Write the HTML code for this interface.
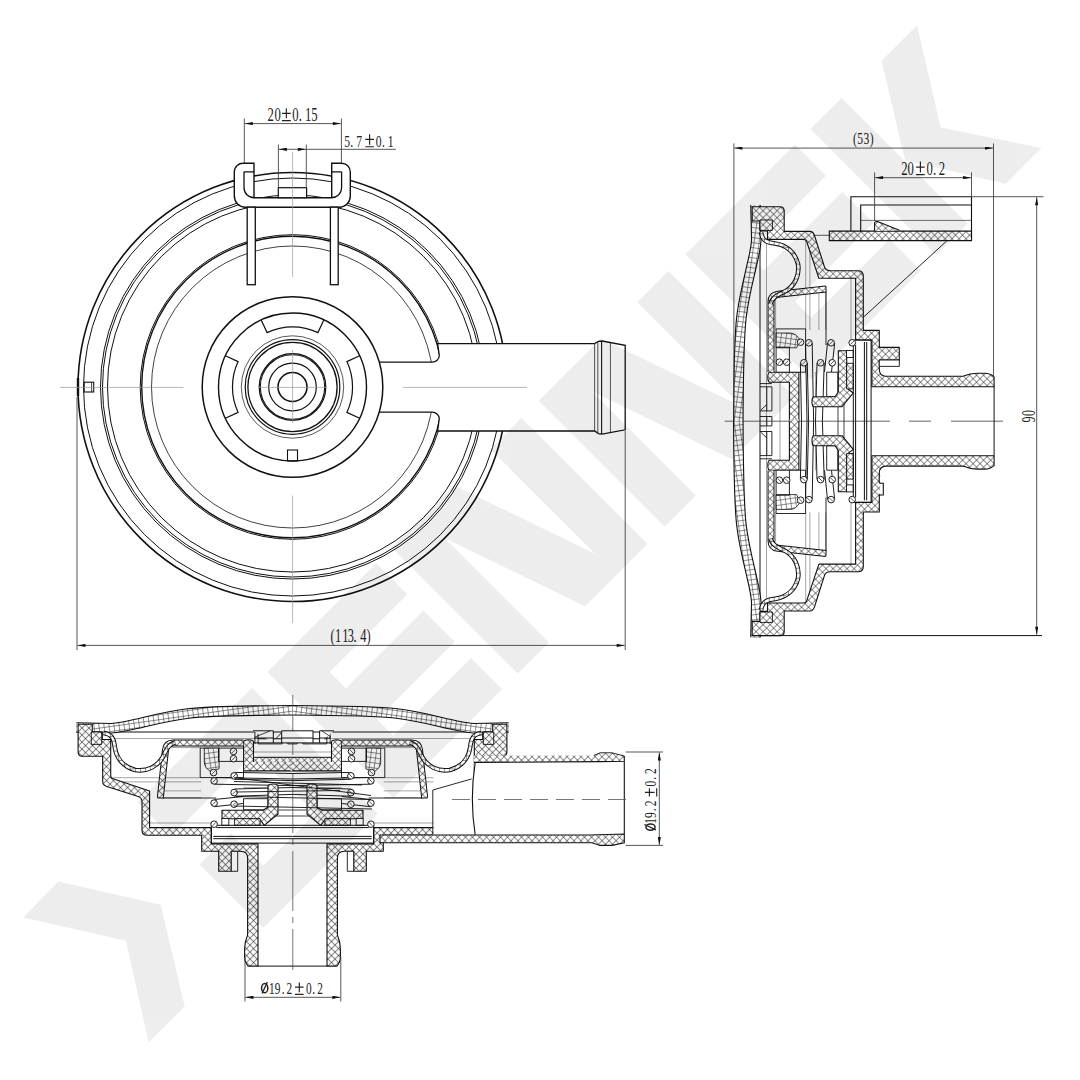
<!DOCTYPE html>
<html><head><meta charset="utf-8">
<style>
html,body{margin:0;padding:0;background:#fff;width:1080px;height:1080px;overflow:hidden}
svg{display:block}
text{font-family:"Liberation Serif",serif}
</style></head><body>
<svg width="1080" height="1080" viewBox="0 0 1080 1080">
<defs>
<pattern id="hx" width="4.95" height="4.95" patternUnits="userSpaceOnUse" patternTransform="rotate(45)">
<rect width="4.95" height="4.95" fill="#fff"/>
<path d="M0,0.4H4.95M0.4,0V4.95" stroke="#222" stroke-width="0.58"/>
</pattern>
<marker id="ar" viewBox="0 0 10 4" refX="10" refY="2" markerWidth="9" markerHeight="3.2" orient="auto-start-reverse" markerUnits="userSpaceOnUse">
<path d="M0,0L10,2L0,4z" fill="#111"/>
</marker>
<pattern id="hg" width="5" height="5" patternUnits="userSpaceOnUse" patternTransform="rotate(8)">
<rect width="5" height="5" fill="#fff"/>
<path d="M0,0.4H5M0.4,0V5" stroke="#333" stroke-width="0.62"/>
</pattern>

</defs>
<rect width="1080" height="1080" fill="#fff"/>


<!-- TOP VIEW -->
<g id="top" fill="none" stroke="#111" stroke-width="1">
<g transform="translate(292.5,387)">
<circle r="214.5" stroke-width="1.6"/>
<circle r="209"/>
<circle r="192"/>
<circle r="190"/>
<circle r="185"/>
<circle r="152.3"/>
<circle r="150.8" stroke-width="1.4"/>
<circle r="141" stroke-width="0.8"/>
</g>

<!-- hose + slot -->
<path d="M370,362.2H432.2A7,7 0 0 0 439.3,355.5L437.6,343.6H594.6L598.5,341.3L602,341L625.2,345.3V429.8L602,434.2L598.5,433.6L594.6,431H437.6L439.3,418.5A7,7 0 0 0 432.2,412.2H370Z" fill="#fff" stroke-width="1.3"/>
<path d="M594.6,343.6V431M597.8,342V432.6M610.4,342.5V432.6" stroke-width="0.7"/>
<path d="M601.6,341V434" stroke-width="1.1"/>
<!-- hub -->
<g transform="translate(292.5,387)">
<circle r="90.3" fill="#fff" stroke-width="1.5"/>
<circle r="74" stroke-width="1.4"/>
<circle r="51.2" stroke-width="0.7"/>
<circle r="47.3" stroke-width="1.2"/>
<circle r="44.6" stroke-width="1.3"/>
<circle r="33.3" stroke-width="1.2"/>
<circle r="32.2" stroke-width="1.1"/>
<circle r="23.8" stroke-width="1.2"/>
<circle r="14.5" stroke-width="1.6"/>
</g>
<path d="M323.8,319.9L317.9,332.6A60,60 0 0 0 267.1,332.6L261.2,319.9M225.4,355.7L238.1,361.6A60,60 0 0 0 238.1,412.4L225.4,418.3M359.6,418.3L346.9,412.4A60,60 0 0 0 346.9,361.6L359.6,355.7" stroke-width="1.2"/>
<rect x="287.5" y="450" width="10" height="11" stroke-width="1.1"/>
<!-- small square left -->
<rect x="84.2" y="382.2" width="9.5" height="9.8" stroke-width="1.1"/>
<path d="M91.6,382.5V392" stroke-width="0.8"/>
<path d="M78,378V396" stroke-width="2.4"/>
<!-- clip -->
<path d="M244,163.3H254V197.7H331.7V163.3H341.6A8.7,8.7 0 0 1 350.3,172V196A11.2,11.2 0 0 1 339.1,207.2H245.5A11.2,11.2 0 0 1 234.3,196V172A8.7,8.7 0 0 1 244,163.3Z" fill="#fff" stroke-width="1.4"/>
<path d="M244,171.8V187.7A10,10 0 0 0 254,197.7M331.7,197.7A10,10 0 0 0 341.6,187.7V171.8M244,171.8H254M331.7,171.8H341.6" stroke-width="1.3"/>
<rect x="247.2" y="207.2" width="8.1" height="77.5" fill="#fff" stroke-width="1.3"/>
<rect x="330.4" y="207.2" width="7.8" height="77.5" fill="#fff" stroke-width="1.3"/>
<rect x="278.3" y="187.7" width="28.3" height="10" fill="#fff" stroke-width="1.2"/>
</g>


<!-- SIDE VIEW -->
<path d="M724.7,421.2H890M909,421.2H931M951,421.2H1003" stroke="#555" stroke-width="0.9" fill="none"/>
<g stroke="#111" stroke-width="1.1" stroke-linejoin="round">
<!-- vertical thin lines inside -->
<path d="M766.5,244V421.2M775.6,300V330M780,347V421.2M805.7,240V330M809.9,240V330M815.6,372V396M818.9,290V330M825.8,289V330M851,278V340" fill="none" stroke-width="0.6" stroke="#666"/>
<path d="M760,241V421.2" fill="none" stroke-width="1"/>
<!-- shell -->
<path d="M755.5,205L756.3,240C755.8,248 753.5,258 751.9,264.8C749,278 744,296 741.5,316.7C739.5,333 738.6,360 738.3,421.2" fill="none" stroke="#111" stroke-width="10.6"/>
<path d="M755.5,205L756.3,240C755.8,248 753.5,258 751.9,264.8C749,278 744,296 741.5,316.7C739.5,333 738.6,360 738.3,421.2" fill="none" stroke="url(#hg)" stroke-width="8.4"/>
<!-- housing -->
<path d="M752.2,206.8H780Q784.2,206.8 784.2,211V231.4H810Q813,231.4 814.5,235.5L824.5,267Q825.8,270.7 830,270.7H858Q863.3,270.7 863.3,276V330.4H879.3V347.4H899.3V360H879.3V369Q879.3,376.3 886,376.3H963Q970,373.3 977,373.3H985Q990,373.3 994.1,376.8V386.7H871.9V340H855.6V278.3H818.9L806.5,241Q805.7,239.4 803,239.4H767.5V231H759.9V221H752.2Z" fill="url(#hx)"/>
<rect x="760" y="220" width="12.4" height="10.4" fill="url(#hx)" stroke-width="0.9"/>
<rect x="879.3" y="360" width="20" height="6.4" fill="#fff" stroke-width="0.9"/>
<path d="M994.1,386.7V421.2" fill="none" stroke-width="1"/>
<!-- inner cup half -->
<path d="M770,372.2H798.9V423H789.4V382.2H770Q767.8,382.2 767.8,377.2Q767.8,372.2 770,372.2Z" fill="url(#hx)" stroke="none"/>
<path d="M789.4,421.2V382.2H770Q767.8,382.2 767.8,377.2Q767.8,372.2 770,372.2H798.9V421.2" fill="none"/>
<!-- seat thin band -->
<path d="M771,372V302Q771,295 778,294.2L826,289" fill="none" stroke-width="7"/>
<path d="M771,372V302Q771,295 778,294.2L826,289" fill="none" stroke="url(#hx)" stroke-width="5"/>
<path d="M826,286V345" fill="none" stroke-width="0.9"/>
<!-- membrane -->
<path d="M761,232C762,240 766,242.5 775,243.5C786,245 795,252 798,264C800,276 794,286 786,291C778,295 772,297 770.5,304" fill="none" stroke-width="4.6"/>
<path d="M761,232C762,240 766,242.5 775,243.5C786,245 795,252 798,264C800,276 794,286 786,291C778,295 772,297 770.5,304" fill="none" stroke="url(#hg)" stroke-width="2.6"/>
<path d="M759.9,383.6H771.9M759.9,386.8H771.9V410.9H759.9M766.8,386.8V410.9M761,410L766.8,404.5M759.9,416.5H771.9M766.8,416.5V421.2M771.9,416.5V421.2" fill="none" stroke-width="0.9"/>
<path d="M841.5,372V396M844,390V421.2M838,407V421.2" fill="none" stroke-width="0.8"/>
<!-- retainer box -->
<path d="M776.1,328.9H805.6V372.2H776.1Z" fill="#fff" stroke-width="0.9"/>
<path d="M776.1,333H790Q796,333 800,340L796.7,347.8H776.1Z" fill="url(#hg)" stroke-width="0.8"/>
<path d="M776.1,347.2H789.4V372.2" fill="none" stroke-width="0.9"/>
<!-- springs (tubes) -->
<g fill="none" stroke-width="0.95">
<path d="M805.5,343L807,421.2M812.2,343L813.6,421.2"/>
<path d="M800.4,363L801.5,421.2M807.3,363L808.6,421.2"/>
<path d="M817,363L815.5,421.2M824.2,363L822.4,421.2"/>
<path d="M827.5,343L824.5,372M834.7,343L831.5,372"/>
</g>
<!-- valve stem -->
<path d="M826.7,372.2H837.8V396.7H826.7Z" fill="#fff" stroke-width="0.9"/>
<!-- valve S upper -->
<path d="M814,396.7H835L838.3,392V350.7H846.7V388L853.3,393L842,406.7H814Q812,406.7 812,401.7Q812,396.7 814,396.7Z" fill="url(#hx)"/>
<rect x="846.7" y="363.3" width="6.6" height="25.6" fill="url(#hx)" stroke-width="0.9"/>
<rect x="846.5" y="350.5" width="6.8" height="7" fill="#fff" stroke-width="0.9"/>
<!-- plate -->
<path d="M853.3,340H871.1V421.2M853.3,340V421.2M855.6,345V421.2M864.4,342V421.2M866.7,342V421.2" fill="none" stroke-width="1"/>
<!-- wire circles -->
<g fill="#fff" stroke-width="0.95">
<circle cx="779.4" cy="362.2" r="3.3"/><circle cx="786.7" cy="362.2" r="3.3"/>
<circle cx="800.6" cy="342.2" r="3.3"/><circle cx="808.9" cy="342.8" r="3.3"/>
<circle cx="831.1" cy="342.8" r="3.3"/><circle cx="852.2" cy="342.8" r="3.3"/>
<circle cx="803.9" cy="362.8" r="3.3"/><circle cx="820.6" cy="362.8" r="3.3"/><circle cx="832.2" cy="362.8" r="3.3"/>
</g>
<path d="M777.7,363.9L781.1,360.5M785.0,363.9L788.4,360.5M798.9,343.9L802.3,340.5M807.2,344.5L810.6,341.1M829.4,344.5L832.8,341.1M850.5,344.5L853.9,341.1M802.2,364.5L805.6,361.1M818.9,364.5L822.3,361.1M830.5,364.5L833.9,361.1" fill="none" stroke-width="0.7"/>
</g>
<g stroke="#111" stroke-width="1.1" stroke-linejoin="round" transform="matrix(1,0,0,-1,0,842.4)">
<!-- vertical thin lines inside -->
<path d="M766.5,244V421.2M775.6,300V330M780,347V421.2M805.7,240V330M809.9,240V330M815.6,372V396M818.9,290V330M825.8,289V330M851,278V340" fill="none" stroke-width="0.6" stroke="#666"/>
<path d="M760,241V421.2" fill="none" stroke-width="1"/>
<!-- shell -->
<path d="M755.5,205L756.3,240C755.8,248 753.5,258 751.9,264.8C749,278 744,296 741.5,316.7C739.5,333 738.6,360 738.3,421.2" fill="none" stroke="#111" stroke-width="10.6"/>
<path d="M755.5,205L756.3,240C755.8,248 753.5,258 751.9,264.8C749,278 744,296 741.5,316.7C739.5,333 738.6,360 738.3,421.2" fill="none" stroke="url(#hg)" stroke-width="8.4"/>
<!-- housing -->
<path d="M752.2,206.8H780Q784.2,206.8 784.2,211V231.4H810Q813,231.4 814.5,235.5L824.5,267Q825.8,270.7 830,270.7H858Q863.3,270.7 863.3,276V330.4H879.3V347.4H899.3V360H879.3V369Q879.3,376.3 886,376.3H963Q970,373.3 977,373.3H985Q990,373.3 994.1,376.8V386.7H871.9V340H855.6V278.3H818.9L806.5,241Q805.7,239.4 803,239.4H767.5V231H759.9V221H752.2Z" fill="url(#hx)"/>
<rect x="760" y="220" width="12.4" height="10.4" fill="url(#hx)" stroke-width="0.9"/>
<rect x="879.3" y="360" width="20" height="6.4" fill="#fff" stroke-width="0.9"/>
<path d="M994.1,386.7V421.2" fill="none" stroke-width="1"/>
<!-- inner cup half -->
<path d="M770,372.2H798.9V423H789.4V382.2H770Q767.8,382.2 767.8,377.2Q767.8,372.2 770,372.2Z" fill="url(#hx)" stroke="none"/>
<path d="M789.4,421.2V382.2H770Q767.8,382.2 767.8,377.2Q767.8,372.2 770,372.2H798.9V421.2" fill="none"/>
<!-- seat thin band -->
<path d="M771,372V302Q771,295 778,294.2L826,289" fill="none" stroke-width="7"/>
<path d="M771,372V302Q771,295 778,294.2L826,289" fill="none" stroke="url(#hx)" stroke-width="5"/>
<path d="M826,286V345" fill="none" stroke-width="0.9"/>
<!-- membrane -->
<path d="M761,232C762,240 766,242.5 775,243.5C786,245 795,252 798,264C800,276 794,286 786,291C778,295 772,297 770.5,304" fill="none" stroke-width="4.6"/>
<path d="M761,232C762,240 766,242.5 775,243.5C786,245 795,252 798,264C800,276 794,286 786,291C778,295 772,297 770.5,304" fill="none" stroke="url(#hg)" stroke-width="2.6"/>
<path d="M759.9,383.6H771.9M759.9,386.8H771.9V410.9H759.9M766.8,386.8V410.9M761,410L766.8,404.5M759.9,416.5H771.9M766.8,416.5V421.2M771.9,416.5V421.2" fill="none" stroke-width="0.9"/>
<path d="M841.5,372V396M844,390V421.2M838,407V421.2" fill="none" stroke-width="0.8"/>
<!-- retainer box -->
<path d="M776.1,328.9H805.6V372.2H776.1Z" fill="#fff" stroke-width="0.9"/>
<path d="M776.1,333H790Q796,333 800,340L796.7,347.8H776.1Z" fill="url(#hg)" stroke-width="0.8"/>
<path d="M776.1,347.2H789.4V372.2" fill="none" stroke-width="0.9"/>
<!-- springs (tubes) -->
<g fill="none" stroke-width="0.95">
<path d="M805.5,343L807,421.2M812.2,343L813.6,421.2"/>
<path d="M800.4,363L801.5,421.2M807.3,363L808.6,421.2"/>
<path d="M817,363L815.5,421.2M824.2,363L822.4,421.2"/>
<path d="M827.5,343L824.5,372M834.7,343L831.5,372"/>
</g>
<!-- valve stem -->
<path d="M826.7,372.2H837.8V396.7H826.7Z" fill="#fff" stroke-width="0.9"/>
<!-- valve S upper -->
<path d="M814,396.7H835L838.3,392V350.7H846.7V388L853.3,393L842,406.7H814Q812,406.7 812,401.7Q812,396.7 814,396.7Z" fill="url(#hx)"/>
<rect x="846.7" y="363.3" width="6.6" height="25.6" fill="url(#hx)" stroke-width="0.9"/>
<rect x="846.5" y="350.5" width="6.8" height="7" fill="#fff" stroke-width="0.9"/>
<!-- plate -->
<path d="M853.3,340H871.1V421.2M853.3,340V421.2M855.6,345V421.2M864.4,342V421.2M866.7,342V421.2" fill="none" stroke-width="1"/>
<!-- wire circles -->
<g fill="#fff" stroke-width="0.95">
<circle cx="779.4" cy="362.2" r="3.3"/><circle cx="786.7" cy="362.2" r="3.3"/>
<circle cx="800.6" cy="342.2" r="3.3"/><circle cx="808.9" cy="342.8" r="3.3"/>
<circle cx="831.1" cy="342.8" r="3.3"/><circle cx="852.2" cy="342.8" r="3.3"/>
<circle cx="803.9" cy="362.8" r="3.3"/><circle cx="820.6" cy="362.8" r="3.3"/><circle cx="832.2" cy="362.8" r="3.3"/>
</g>
<path d="M777.7,363.9L781.1,360.5M785.0,363.9L788.4,360.5M798.9,343.9L802.3,340.5M807.2,344.5L810.6,341.1M829.4,344.5L832.8,341.1M850.5,344.5L853.9,341.1M802.2,364.5L805.6,361.1M818.9,364.5L822.3,361.1M830.5,364.5L833.9,361.1" fill="none" stroke-width="0.7"/>
</g>
<path d="M880.2,474.5H901V496.5H880.2Z" fill="#fff"/>
<path d="M879.3,483.2H883.3V495H879.3" fill="none" stroke="#111" stroke-width="1.1"/>
<!-- bracket -->
<g stroke="#111" fill="none" stroke-width="1.1">
<path d="M850.9,231V196.7H971.5V240.6M860.7,231V205H971.5"/>
<path d="M860.7,220.4H971.5" stroke-width="0.6"/>
<path d="M829.3,231.1H971.5V240.6H829.3Z" fill="url(#hx)"/>
<path d="M874.6,231.1V222.5Q875.5,221.2 877.5,221.6L899.5,230.2" fill="url(#hx)"/>
<path d="M813,235.3H829.3" stroke-width="0.7"/>
<path d="M946.7,241L863.7,317" stroke-width="0.9"/>
</g>

<!-- BOTTOM VIEW -->
<path d="M292.8,695V970" stroke="#555" stroke-width="0.8" stroke-dasharray="60,6,6,6" fill="none"/>
<g stroke="#111" stroke-width="1.1" stroke-linejoin="round" transform="matrix(0,1,1,0,-128.7,-28)">
<!-- vertical thin lines inside -->
<path d="M766.5,244V421.2M775.6,300V330M780,347V421.2M805.7,240V330M809.9,240V330M815.6,372V396M818.9,290V330M825.8,289V330M851,278V340" fill="none" stroke-width="0.6" stroke="#666"/>
<path d="M760,241V421.2" fill="none" stroke-width="1"/>
<!-- shell -->
<path d="M755.5,205L756.3,240C755.8,248 753.5,258 751.9,264.8C749,278 744,296 741.5,316.7C739.5,333 738.6,360 738.3,421.2" fill="none" stroke="#111" stroke-width="10.6"/>
<path d="M755.5,205L756.3,240C755.8,248 753.5,258 751.9,264.8C749,278 744,296 741.5,316.7C739.5,333 738.6,360 738.3,421.2" fill="none" stroke="url(#hg)" stroke-width="8.4"/>
<!-- housing -->
<path d="M752.2,206.8H780Q784.2,206.8 784.2,211V231.4H810Q813,231.4 814.5,235.5L824.5,267Q825.8,270.7 830,270.7H858Q863.3,270.7 863.3,276V330.4H879.3V347.4H899.3V360H879.3V369Q879.3,376.3 886,376.3H963Q970,373.3 977,373.3H985Q990,373.3 994.1,376.8V386.7H871.9V340H855.6V278.3H818.9L806.5,241Q805.7,239.4 803,239.4H767.5V231H759.9V221H752.2Z" fill="url(#hx)"/>
<rect x="760" y="220" width="12.4" height="10.4" fill="url(#hx)" stroke-width="0.9"/>
<rect x="879.3" y="360" width="20" height="6.4" fill="#fff" stroke-width="0.9"/>
<path d="M994.1,386.7V421.2" fill="none" stroke-width="1"/>
<!-- inner cup half -->
<path d="M770,372.2H798.9V423H789.4V382.2H770Q767.8,382.2 767.8,377.2Q767.8,372.2 770,372.2Z" fill="url(#hx)" stroke="none"/>
<path d="M789.4,421.2V382.2H770Q767.8,382.2 767.8,377.2Q767.8,372.2 770,372.2H798.9V421.2" fill="none"/>
<!-- seat thin band -->
<path d="M771,372V302Q771,295 778,294.2L826,289" fill="none" stroke-width="7"/>
<path d="M771,372V302Q771,295 778,294.2L826,289" fill="none" stroke="url(#hx)" stroke-width="5"/>
<path d="M826,286V345" fill="none" stroke-width="0.9"/>
<!-- membrane -->
<path d="M761,232C762,240 766,242.5 775,243.5C786,245 795,252 798,264C800,276 794,286 786,291C778,295 772,297 770.5,304" fill="none" stroke-width="4.6"/>
<path d="M761,232C762,240 766,242.5 775,243.5C786,245 795,252 798,264C800,276 794,286 786,291C778,295 772,297 770.5,304" fill="none" stroke="url(#hg)" stroke-width="2.6"/>
<path d="M759.9,383.6H771.9M759.9,386.8H771.9V410.9H759.9M766.8,386.8V410.9M761,410L766.8,404.5M759.9,416.5H771.9M766.8,416.5V421.2M771.9,416.5V421.2" fill="none" stroke-width="0.9"/>
<path d="M841.5,372V396M844,390V421.2M838,407V421.2" fill="none" stroke-width="0.8"/>
<!-- retainer box -->
<path d="M776.1,328.9H805.6V372.2H776.1Z" fill="#fff" stroke-width="0.9"/>
<path d="M776.1,333H790Q796,333 800,340L796.7,347.8H776.1Z" fill="url(#hg)" stroke-width="0.8"/>
<path d="M776.1,347.2H789.4V372.2" fill="none" stroke-width="0.9"/>
<!-- springs (tubes) -->
<g fill="none" stroke-width="0.95">
<path d="M805.5,343L807,421.2M812.2,343L813.6,421.2"/>
<path d="M800.4,363L801.5,421.2M807.3,363L808.6,421.2"/>
<path d="M817,363L815.5,421.2M824.2,363L822.4,421.2"/>
<path d="M827.5,343L824.5,372M834.7,343L831.5,372"/>
</g>
<!-- valve stem -->
<path d="M826.7,372.2H837.8V396.7H826.7Z" fill="#fff" stroke-width="0.9"/>
<!-- valve S upper -->
<path d="M814,396.7H835L838.3,392V350.7H846.7V388L853.3,393L842,406.7H814Q812,406.7 812,401.7Q812,396.7 814,396.7Z" fill="url(#hx)"/>
<rect x="846.7" y="363.3" width="6.6" height="25.6" fill="url(#hx)" stroke-width="0.9"/>
<rect x="846.5" y="350.5" width="6.8" height="7" fill="#fff" stroke-width="0.9"/>
<!-- plate -->
<path d="M853.3,340H871.1V421.2M853.3,340V421.2M855.6,345V421.2M864.4,342V421.2M866.7,342V421.2" fill="none" stroke-width="1"/>
<!-- wire circles -->
<g fill="#fff" stroke-width="0.95">
<circle cx="779.4" cy="362.2" r="3.3"/><circle cx="786.7" cy="362.2" r="3.3"/>
<circle cx="800.6" cy="342.2" r="3.3"/><circle cx="808.9" cy="342.8" r="3.3"/>
<circle cx="831.1" cy="342.8" r="3.3"/><circle cx="852.2" cy="342.8" r="3.3"/>
<circle cx="803.9" cy="362.8" r="3.3"/><circle cx="820.6" cy="362.8" r="3.3"/><circle cx="832.2" cy="362.8" r="3.3"/>
</g>
<path d="M777.7,363.9L781.1,360.5M785.0,363.9L788.4,360.5M798.9,343.9L802.3,340.5M807.2,344.5L810.6,341.1M829.4,344.5L832.8,341.1M850.5,344.5L853.9,341.1M802.2,364.5L805.6,361.1M818.9,364.5L822.3,361.1M830.5,364.5L833.9,361.1" fill="none" stroke-width="0.7"/>
</g>
<g stroke="#111" stroke-width="1.1" stroke-linejoin="round" transform="matrix(0,1,-1,0,713.7,-28)">
<!-- vertical thin lines inside -->
<path d="M766.5,244V421.2M775.6,300V330M780,347V421.2M805.7,240V330M809.9,240V330M815.6,372V396M818.9,290V330M825.8,289V330M851,278V340" fill="none" stroke-width="0.6" stroke="#666"/>
<path d="M760,241V421.2" fill="none" stroke-width="1"/>
<!-- shell -->
<path d="M755.5,205L756.3,240C755.8,248 753.5,258 751.9,264.8C749,278 744,296 741.5,316.7C739.5,333 738.6,360 738.3,421.2" fill="none" stroke="#111" stroke-width="10.6"/>
<path d="M755.5,205L756.3,240C755.8,248 753.5,258 751.9,264.8C749,278 744,296 741.5,316.7C739.5,333 738.6,360 738.3,421.2" fill="none" stroke="url(#hg)" stroke-width="8.4"/>
<!-- housing -->
<path d="M752.2,206.8H780Q784.2,206.8 784.2,211V231.4H810Q813,231.4 814.5,235.5L824.5,267Q825.8,270.7 830,270.7H858Q863.3,270.7 863.3,276V330.4H879.3V347.4H899.3V360H879.3V369Q879.3,376.3 886,376.3H963Q970,373.3 977,373.3H985Q990,373.3 994.1,376.8V386.7H871.9V340H855.6V278.3H818.9L806.5,241Q805.7,239.4 803,239.4H767.5V231H759.9V221H752.2Z" fill="url(#hx)"/>
<rect x="760" y="220" width="12.4" height="10.4" fill="url(#hx)" stroke-width="0.9"/>
<rect x="879.3" y="360" width="20" height="6.4" fill="#fff" stroke-width="0.9"/>
<path d="M994.1,386.7V421.2" fill="none" stroke-width="1"/>
<!-- inner cup half -->
<path d="M770,372.2H798.9V423H789.4V382.2H770Q767.8,382.2 767.8,377.2Q767.8,372.2 770,372.2Z" fill="url(#hx)" stroke="none"/>
<path d="M789.4,421.2V382.2H770Q767.8,382.2 767.8,377.2Q767.8,372.2 770,372.2H798.9V421.2" fill="none"/>
<!-- seat thin band -->
<path d="M771,372V302Q771,295 778,294.2L826,289" fill="none" stroke-width="7"/>
<path d="M771,372V302Q771,295 778,294.2L826,289" fill="none" stroke="url(#hx)" stroke-width="5"/>
<path d="M826,286V345" fill="none" stroke-width="0.9"/>
<!-- membrane -->
<path d="M761,232C762,240 766,242.5 775,243.5C786,245 795,252 798,264C800,276 794,286 786,291C778,295 772,297 770.5,304" fill="none" stroke-width="4.6"/>
<path d="M761,232C762,240 766,242.5 775,243.5C786,245 795,252 798,264C800,276 794,286 786,291C778,295 772,297 770.5,304" fill="none" stroke="url(#hg)" stroke-width="2.6"/>
<path d="M759.9,383.6H771.9M759.9,386.8H771.9V410.9H759.9M766.8,386.8V410.9M761,410L766.8,404.5M759.9,416.5H771.9M766.8,416.5V421.2M771.9,416.5V421.2" fill="none" stroke-width="0.9"/>
<path d="M841.5,372V396M844,390V421.2M838,407V421.2" fill="none" stroke-width="0.8"/>
<!-- retainer box -->
<path d="M776.1,328.9H805.6V372.2H776.1Z" fill="#fff" stroke-width="0.9"/>
<path d="M776.1,333H790Q796,333 800,340L796.7,347.8H776.1Z" fill="url(#hg)" stroke-width="0.8"/>
<path d="M776.1,347.2H789.4V372.2" fill="none" stroke-width="0.9"/>
<!-- springs (tubes) -->
<g fill="none" stroke-width="0.95">
<path d="M805.5,343L807,421.2M812.2,343L813.6,421.2"/>
<path d="M800.4,363L801.5,421.2M807.3,363L808.6,421.2"/>
<path d="M817,363L815.5,421.2M824.2,363L822.4,421.2"/>
<path d="M827.5,343L824.5,372M834.7,343L831.5,372"/>
</g>
<!-- valve stem -->
<path d="M826.7,372.2H837.8V396.7H826.7Z" fill="#fff" stroke-width="0.9"/>
<!-- valve S upper -->
<path d="M814,396.7H835L838.3,392V350.7H846.7V388L853.3,393L842,406.7H814Q812,406.7 812,401.7Q812,396.7 814,396.7Z" fill="url(#hx)"/>
<rect x="846.7" y="363.3" width="6.6" height="25.6" fill="url(#hx)" stroke-width="0.9"/>
<rect x="846.5" y="350.5" width="6.8" height="7" fill="#fff" stroke-width="0.9"/>
<!-- plate -->
<path d="M853.3,340H871.1V421.2M853.3,340V421.2M855.6,345V421.2M864.4,342V421.2M866.7,342V421.2" fill="none" stroke-width="1"/>
<!-- wire circles -->
<g fill="#fff" stroke-width="0.95">
<circle cx="779.4" cy="362.2" r="3.3"/><circle cx="786.7" cy="362.2" r="3.3"/>
<circle cx="800.6" cy="342.2" r="3.3"/><circle cx="808.9" cy="342.8" r="3.3"/>
<circle cx="831.1" cy="342.8" r="3.3"/><circle cx="852.2" cy="342.8" r="3.3"/>
<circle cx="803.9" cy="362.8" r="3.3"/><circle cx="820.6" cy="362.8" r="3.3"/><circle cx="832.2" cy="362.8" r="3.3"/>
</g>
<path d="M777.7,363.9L781.1,360.5M785.0,363.9L788.4,360.5M798.9,343.9L802.3,340.5M807.2,344.5L810.6,341.1M829.4,344.5L832.8,341.1M850.5,344.5L853.9,341.1M802.2,364.5L805.6,361.1M818.9,364.5L822.3,361.1M830.5,364.5L833.9,361.1" fill="none" stroke-width="0.7"/>
</g>
<!-- bottom view extras -->
<g stroke="#111" stroke-width="1" fill="none">
<path d="M254.1,757.3H331.1V762H254.1Z" fill="url(#hx)" stroke="none"/>
<path d="M254.1,757.3H331.1"/>
<path d="M252.9,730.8H273.3V742.9M281.7,742.9V730.8H313V742.9M319.6,742.9V730.8H334" fill="#fff"/>
<path d="M254.1,738H273.3M281.7,738H313M319.6,738H331M254.1,742.9H331.1"/>
<path d="M255,737L270,731M322,731L331,737" stroke-width="0.8"/>
<path d="M234,777.5L371,795.5M234,781.5L362,785M236,792L340,790.5M236,796.5L371,799.5M234,806L372,809" stroke-width="0.9"/>
</g>
<!-- hose region (right) -->
<path d="M474,762.4H625V835H474Z" fill="#fff"/>
<path d="M433.4,773H474.5V835H433.4Z" fill="#fff"/>
<path d="M432.8,790L471.7,778.9M432.8,790V834" stroke="#111" stroke-width="0.9" fill="none"/>
<g stroke="#111" stroke-width="1.1">
<path d="M474,755.4H594L600,752.8H612L624.3,756V761.2L600,761.6L474,762.4Z" fill="url(#hx)" stroke="none"/>
<path d="M474,762.4L600,761.6L624.3,761.2V756" fill="none"/>
<path d="M594,755.4L600,752.8H612L624.3,756" fill="none" stroke-width="0.9"/>
<path d="M380,835H590L624.3,834V842.8L612,845.4H600L592,842.8H380Z" fill="url(#hx)"/>
<path d="M475.2,762.4Q469.5,799 475.2,835" fill="none"/>
<path d="M624.3,761.2V834" fill="none"/>
</g>
<path d="M452,799.5H633" stroke="#555" stroke-width="0.8" stroke-dasharray="18,8" fill="none"/>

<!-- DIMENSIONS -->
<g stroke="#444" stroke-width="0.9" fill="none">
<!-- top view -->
<path d="M244.3,118.5V163M341.4,118.5V163"/>
<path d="M278.4,144.5V187.7M306.3,144.5V187.7"/>
<path d="M244.8,123.6H340.9" marker-start="url(#ar)" marker-end="url(#ar)"/>
<path d="M278.9,149.3H305.8" marker-start="url(#ar)" marker-end="url(#ar)"/>
<path d="M305.8,149.3H396"/>
<path d="M77,397V650M625.2,431V650"/>
<path d="M77.5,645.4H624.7" marker-start="url(#ar)" marker-end="url(#ar)"/>
<!-- side view -->
<path d="M733.9,143.4V421M993.5,143.4V376"/>
<path d="M734.4,148.1H993" marker-start="url(#ar)" marker-end="url(#ar)"/>
<path d="M874.6,172.4V221M971.5,172.4V196.7"/>
<path d="M875.1,177.7H971" marker-start="url(#ar)" marker-end="url(#ar)"/>
<path d="M971.5,196.7H1043.5"/>
<path d="M752,635.6H1042" stroke="#111" stroke-width="1"/>
<path d="M1036.7,197.2V634.7" marker-start="url(#ar)" marker-end="url(#ar)"/>
<!-- bottom view -->
<path d="M245,957V1001.5M340.8,957V1001.5"/>
<path d="M245.5,997.3H340.3" marker-start="url(#ar)" marker-end="url(#ar)"/>
<path d="M625.6,752H663M625.6,845.4H663"/>
<path d="M659.3,752.5V844.9" marker-start="url(#ar)" marker-end="url(#ar)"/>
</g>
<!-- centerlines top view -->
<g stroke="#999" stroke-width="0.7" fill="none">
<path d="M292.6,151.7V277M292.6,350V423M292.6,495.6V622.8"/>
<path d="M60,387.4H183.3M258,387.4H327M402.8,387.4H527"/>
</g>
<g fill="#222" font-family="Liberation Serif">
<g transform="translate(268.00,121.10) scale(0.66,1)"><text font-size="19.25" x="-0.85 9.87 36.84 46.76 56.04 65.55" y="0">200.15</text></g><path d="M286.35,108.30V118.30M281.90,113.30H290.80M281.90,120.60H290.80" stroke="#222" stroke-width="1.15" fill="none"/>
<g transform="translate(345.00,146.70) scale(0.66,1)"><text font-size="17.59" x="-1.02 8.08 17.02 46.45 56.11 64.97" y="0">5.70.1</text></g><path d="M369.60,134.20V144.70M365.30,139.40H373.90M365.30,146.70H373.90" stroke="#222" stroke-width="1.15" fill="none"/>
<g transform="translate(331.10,641.70) scale(0.66,1)"><text font-size="18.80" x="-0.83 5.92 16.83 25.16 34.06 44.33 53.64" y="0">(113.4)</text></g>
<g transform="translate(853.60,143.80) scale(0.66,1)"><text font-size="17.59" x="-0.77 5.49 15.07 24.43" y="0">(53)</text></g>
<g transform="translate(901.90,174.90) scale(0.66,1)"><text font-size="19.25" x="-0.85 8.66 37.15 47.22 55.97" y="0">200.2</text></g><path d="M920.40,161.40V172.40M916.10,167.10H924.70M916.10,174.60H924.70" stroke="#222" stroke-width="1.15" fill="none"/>
<g transform="translate(269.90,993.70) scale(0.66,1)"><text font-size="17.14" x="-1.51 7.33 17.81 25.16 54.65 64.17 71.82" y="0">19.20.2</text></g><path d="M299.30,982.60V992.30M295.00,987.10H303.60M295.00,994.40H303.60" stroke="#222" stroke-width="1.15" fill="none"/><ellipse cx="264.7" cy="988.2" rx="3.1" ry="4.6" stroke="#222" stroke-width="1.5" fill="none"/><path d="M267.4,982L262.1,993.6" stroke="#222" stroke-width="1.3"/>
<g transform="translate(1034.8,422.0) rotate(-90)"><g transform="translate(0.00,0.00) scale(0.62,1)"><text font-size="19.25" x="-0.62 9.59" y="0">90</text></g></g>
<g transform="translate(656.0,830.4) rotate(-90)"><g transform="translate(7.70,0.00) scale(0.66,1)"><text font-size="17.44" x="-1.53 7.01 17.49 24.84 54.79 65.06 73.93" y="0">19.20.2</text></g><path d="M38.00,-11.10V-1.40M33.80,-6.60H42.20M33.80,0.70H42.20" stroke="#222" stroke-width="1.15" fill="none"/><ellipse cx="3.3" cy="-5.5" rx="3.1" ry="4.6" stroke="#222" stroke-width="1.5" fill="none"/><path d="M5.9,-11.6L0.6,0" stroke="#222" stroke-width="1.3"/></g>
</g>

<!-- WATERMARK (overlay) -->
<g id="wm" fill="#000" opacity="0.0667" transform="translate(532.6,532.8) rotate(-45)">
<polygon points="-632,-88 -582,-89 -526,0 -581,89 -632,89 -576,1"/>
<!-- first letter (guess) -->
<path d="M-470,-89H-308V89H-470V-1H-426V45H-352V-41H-470Z"/>
<!-- E -->
<path d="M-286,-89H-132V-45H-242V-22H-132V22H-242V45H-132V89H-286Z"/>
<!-- N -->
<path d="M-110,-89H-66V89H-110Z M29.3,-89H73.3V89H29.3Z M-76.4,-89H-21.9L39.7,89H-14.8Z"/>
<path d="M97.8,-89H141.8V89H97.8Z M237.1,-89H281.1V89H237.1Z M131.4,-89H185.9L247.5,89H193Z"/>
<!-- E -->
<path d="M305,-89H460V-45H349V-22H460V22H349V45H460V89H305Z"/>
<!-- K -->
<path d="M482,-89H526V89H482Z"/>
<polygon points="580.6,-87.1 630.8,-87.1 575.2,1.9 632,87.8 581.5,87.8 526.9,-0.1"/>
</g>
</svg>
</body></html>
